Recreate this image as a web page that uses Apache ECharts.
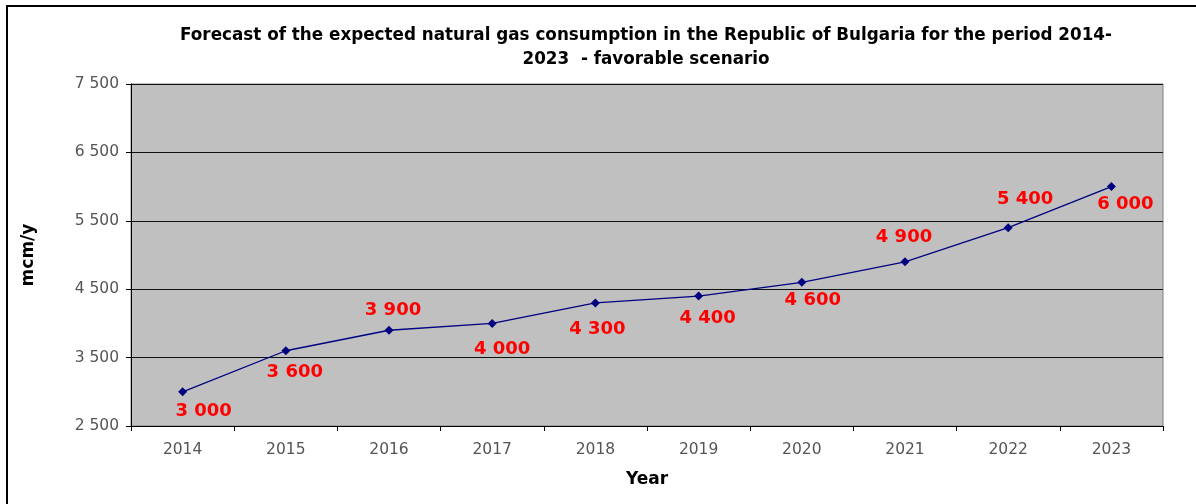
<!DOCTYPE html>
<html>
<head>
<meta charset="utf-8">
<script src="https://cdn.jsdelivr.net/npm/echarts@6/dist/echarts.min.js"></script>
<style>
  html, body { margin: 0; padding: 0; background: #fff; }
  #main { width: 1196px; height: 504px; }
</style>
</head>
<body>
<div id="main"></div>
<script>
// chart data
var years = ['2014', '2015', '2016', '2017', '2018', '2019', '2020', '2021', '2022', '2023'];
var consumption = [3000, 3600, 3900, 4000, 4300, 4400, 4600, 4900, 5400, 6000];
var yTicks = [2500, 3500, 4500, 5500, 6500, 7500];

// where each red label sits relative to its point (px)
var labelOffsets = [[21, 20], [9, 22], [4, -20], [10, 26], [2, 26], [9, 22], [11, 18], [-1, -25], [17, -28], [14, 18]];

function fmt(v) {
    return String(v).replace(/\B(?=(\d{3})+(?!\d))/g, ' ');
}

var myChart = echarts.init(document.getElementById('main'));

var option = {
    animation: false,
    textStyle: { fontFamily: 'DejaVu Sans' },
    title: {
        text: 'Forecast of the expected natural gas consumption in the Republic of Bulgaria for the period 2014-\n2023  - favorable scenario',
        left: 641,
        top: 19,
        textAlign: 'center',
        textStyle: {
            fontFamily: 'DejaVu Sans',
            fontWeight: 'bold',
            fontSize: 16.8,
            lineHeight: 24,
            color: '#000'
        }
    },
    graphic: [{
        type: 'rect',
        shape: { x: 7, y: 6, width: 1300, height: 600 },
        style: { fill: null, stroke: '#000', lineWidth: 2 },
        silent: true
    }],
    grid: {
        left: 131,
        right: 33,
        top: 84,
        bottom: 78,
        show: true,
        backgroundColor: '#C0C0C0',
        borderColor: '#808080',
        borderWidth: 1
    },
    xAxis: {
        type: 'category',
        data: years,
        boundaryGap: true,
        name: 'Year',
        nameLocation: 'middle',
        nameGap: 45,
        nameTextStyle: { fontWeight: 'bold', fontSize: 17, color: '#000' },
        axisLine: { lineStyle: { color: '#000', width: 1 } },
        axisTick: { show: true, length: 5, lineStyle: { color: '#000' } },
        axisLabel: { color: '#555', fontSize: 15.5, margin: 16 },
        splitLine: { show: false }
    },
    yAxis: {
        type: 'value',
        min: yTicks[0],
        max: yTicks[yTicks.length - 1],
        interval: 1000,
        name: 'mcm/y',
        nameLocation: 'middle',
        nameGap: 94,
        nameRotate: 90,
        nameTextStyle: { fontWeight: 'bold', fontSize: 17, color: '#000' },
        axisLine: { show: true, lineStyle: { color: '#000', width: 1 } },
        axisTick: { show: true, length: 5, lineStyle: { color: '#000' } },
        axisLabel: { color: '#555', fontSize: 15.5, margin: 12, formatter: fmt },
        splitLine: { show: true, lineStyle: { color: '#111', width: 1 } }
    },
    series: [{
        type: 'line',
        data: consumption.map(function (v, i) {
            return {
                value: v,
                label: { offset: labelOffsets[i] }
            };
        }),
        symbol: 'diamond',
        symbolSize: 9,
        lineStyle: { color: '#000080', width: 1.3 },
        itemStyle: { color: '#000080' },
        label: {
            show: true,
            position: 'inside',
            formatter: function (p) { return fmt(p.value); },
            color: '#FF0000',
            fontWeight: 'bold',
            fontSize: 18
        }
    }]
};

myChart.setOption(option);
window.onresize = myChart.resize;
</script>
</body>
</html>
